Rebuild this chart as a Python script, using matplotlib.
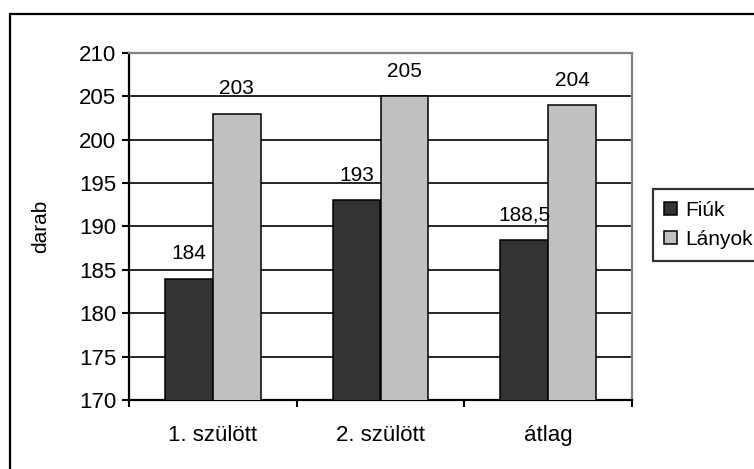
"""Fiúk és lányok átlagos darabszáma születési sorrend szerint (oszlopdiagram)."""

import numpy as np
import matplotlib.pyplot as plt
from matplotlib.patches import Rectangle

plt.rcParams['font.family'] = ['Liberation Sans', 'DejaVu Sans']

categories = ['1. szülött', '2. szülött', 'átlag']
fiuk = [184, 193, 188.5]
lanyok = [203, 205, 204]
series_names = ['Fiúk', 'Lányok']
y_ticks = [170, 175, 180, 185, 190, 195, 200, 205, 210]

W, H = 754, 469
fig = plt.figure(figsize=(W / 100, H / 100), dpi=100)
ax = fig.add_axes([129 / W, 1 - 400 / H, (632 - 129) / W, (400 - 53) / H])

# külső keret (jobb és alsó oldala kilóg a képből)
fig.add_artist(Rectangle((9.5 / W, -0.2), 1.2, 1.2 - 14.5 / H,
                         transform=fig.transFigure, fill=False,
                         edgecolor='black', lw=1.6, clip_on=False))

x = np.arange(len(categories))
w = 1 / 3.5  # Excel: 150% rés

b1 = ax.bar(x - w / 2, fiuk, w, color='#333333',
            edgecolor='black', lw=1.1, label=series_names[0], zorder=3)
b2 = ax.bar(x + w / 2, lanyok, w, color='#c0c0c0',
            edgecolor='black', lw=1.1, label=series_names[1], zorder=3)

for bars, vals in ((b1, fiuk), (b2, lanyok)):
    for rect, v in zip(bars, vals):
        ax.annotate(f'{v:g}'.replace('.', ','),
                    (rect.get_x() + rect.get_width() / 2, v),
                    xytext=(0, 18), textcoords='offset points',
                    ha='center', va='center', fontsize=15, clip_on=False)

ax.set_ylim(170, 210)
ax.set_xlim(-0.5, len(categories) - 0.5)
ax.set_yticks(y_ticks)
ax.set_yticklabels([str(t) for t in y_ticks], fontsize=16)
ax.tick_params(axis='y', direction='out', length=5, width=1.5, pad=4)

ax.set_xticks(x)
ax.set_xticklabels(categories, fontsize=16)
ax.set_xticks(np.arange(len(categories) + 1) - 0.5, minor=True)
ax.tick_params(axis='x', which='major', length=0, pad=18)
ax.tick_params(axis='x', which='minor', direction='out', length=5, width=1.5)

ax.yaxis.grid(True, color='black', lw=1.2, zorder=0)
ax.set_axisbelow(True)

ax.spines['left'].set_color('black')
ax.spines['bottom'].set_color('black')
ax.spines['left'].set_linewidth(1.6)
ax.spines['bottom'].set_linewidth(1.6)
for s in ('top', 'right'):
    ax.spines[s].set_color('#808080')
    ax.spines[s].set_linewidth(1.6)

ax.set_ylabel('darab', fontsize=15)
ax.yaxis.set_label_coords(-0.157, 0.5)

leg = fig.legend(loc='center left', bbox_to_anchor=(653 / W, 1 - 225 / H),
                 fontsize=15, frameon=True, fancybox=False, edgecolor='black',
                 handlelength=0.6, handleheight=0.6, handletextpad=0.4,
                 borderpad=0.55, labelspacing=0.5, borderaxespad=0)
leg.get_frame().set_linewidth(1.6)

fig.savefig('out.png', dpi=100)
